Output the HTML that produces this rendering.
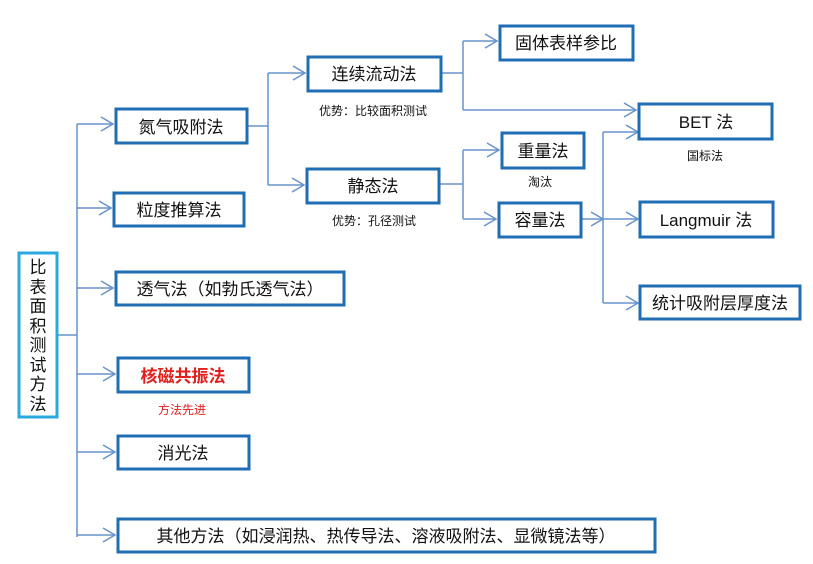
<!DOCTYPE html>
<html><head><meta charset="utf-8"><style>
html,body{margin:0;padding:0;background:#fff;width:813px;height:564px;overflow:hidden}
text{font-family:"Liberation Sans","Noto Sans CJK SC",sans-serif;fill:#111}
</style></head><body>
<svg width="813" height="564" xmlns="http://www.w3.org/2000/svg">
<g stroke="#6694cc" stroke-width="1.5" fill="none">
<line x1="57" y1="335" x2="77" y2="335"/>
<line x1="77" y1="124" x2="77" y2="537"/>
<line x1="77" y1="124" x2="113" y2="124"/>
<line x1="77" y1="208" x2="111" y2="208"/>
<line x1="77" y1="288" x2="113" y2="288"/>
<line x1="77" y1="374" x2="115" y2="374"/>
<line x1="77" y1="452" x2="115" y2="452"/>
<line x1="77" y1="535" x2="115" y2="535"/>
<line x1="248" y1="126" x2="268" y2="126"/>
<line x1="268" y1="73" x2="268" y2="185"/>
<line x1="268" y1="73" x2="305" y2="73"/>
<line x1="268" y1="185" x2="304" y2="185"/>
<line x1="441" y1="73" x2="463" y2="73"/>
<line x1="463" y1="41" x2="463" y2="110"/>
<line x1="463" y1="41" x2="497" y2="41"/>
<line x1="463" y1="110" x2="636" y2="110"/>
<line x1="439" y1="184" x2="463" y2="184"/>
<line x1="463" y1="150" x2="463" y2="219"/>
<line x1="463" y1="150" x2="499" y2="150"/>
<line x1="463" y1="219" x2="496" y2="219"/>
<line x1="581" y1="219" x2="603" y2="219"/>
<line x1="603" y1="132" x2="603" y2="303"/>
<line x1="603" y1="132" x2="638" y2="132"/>
<line x1="603" y1="219" x2="638" y2="219"/>
<line x1="603" y1="303" x2="638" y2="303"/>
<g stroke-width="1.5">
<polyline points="101,117 113,124 101,131"/>
<polyline points="99,201 111,208 99,215"/>
<polyline points="101,281 113,288 101,295"/>
<polyline points="103,367 115,374 103,381"/>
<polyline points="103,445 115,452 103,459"/>
<polyline points="103,528 115,535 103,542"/>
<polyline points="293,66 305,73 293,80"/>
<polyline points="292,178 304,185 292,192"/>
<polyline points="485,34 497,41 485,48"/>
<polyline points="624,103 636,110 624,117"/>
<polyline points="487,143 499,150 487,157"/>
<polyline points="484,212 496,219 484,226"/>
<polyline points="591,212 603,219 591,226"/>
<polyline points="626,125 638,132 626,139"/>
<polyline points="626,212 638,219 626,226"/>
<polyline points="626,296 638,303 626,310"/>
</g>
</g>
<g fill="#fff" stroke="#1f6db3" stroke-width="3">
<rect x="116" y="109" width="131" height="34"/>
<rect x="114" y="193" width="130" height="33"/>
<rect x="116" y="272" width="228" height="33"/>
<rect x="118" y="358" width="131" height="34"/>
<rect x="118" y="436" width="131" height="33"/>
<rect x="118" y="519" width="537" height="33"/>
<rect x="308" y="57" width="133" height="34"/>
<rect x="307" y="169" width="132" height="34"/>
<rect x="500" y="26" width="133" height="34"/>
<rect x="502" y="133" width="82" height="35"/>
<rect x="499" y="203" width="82" height="34"/>
<rect x="639" y="104" width="133" height="35"/>
<rect x="640" y="202" width="133" height="35"/>
<rect x="640" y="286" width="160" height="33"/>
</g>
<rect x="19" y="253" width="38" height="164" fill="#fff" stroke="#2aa8e0" stroke-width="3"/>
<g font-size="17" text-anchor="middle">
<text x="38" y="273">比</text>
<text x="38" y="293">表</text>
<text x="38" y="312">面</text>
<text x="38" y="332">积</text>
<text x="38" y="351">测</text>
<text x="38" y="371">试</text>
<text x="38" y="390">方</text>
<text x="38" y="410">法</text>
</g>
<g font-size="17" text-anchor="middle">
<text x="181" y="133">氮气吸附法</text>
<text x="179" y="216">粒度推算法</text>
<text x="230" y="295">透气法（如勃氏透气法）</text>
<text x="183" y="459">消光法</text>
<text x="386" y="542">其他方法（如浸润热、热传导法、溶液吸附法、显微镜法等）</text>
<text x="374" y="80">连续流动法</text>
<text x="373" y="192">静态法</text>
<text x="566" y="49">固体表样参比</text>
<text x="543" y="157">重量法</text>
<text x="540" y="226">容量法</text>
<text x="706" y="128">BET 法</text>
<text x="706" y="226">Langmuir 法</text>
<text x="720" y="309">统计吸附层厚度法</text>
</g>
<text x="183" y="382" font-size="17" font-weight="bold" text-anchor="middle" style="fill:#e0201c">核磁共振法</text>
<text x="182" y="414" font-size="12" text-anchor="middle" style="fill:#e0201c">方法先进</text>
<g font-size="12" text-anchor="middle">
<text x="373" y="115">优势：比较面积测试</text>
<text x="374" y="225">优势：孔径测试</text>
<text x="540" y="186">淘汰</text>
<text x="705" y="160">国标法</text>
</g>
</svg>
</body></html>
